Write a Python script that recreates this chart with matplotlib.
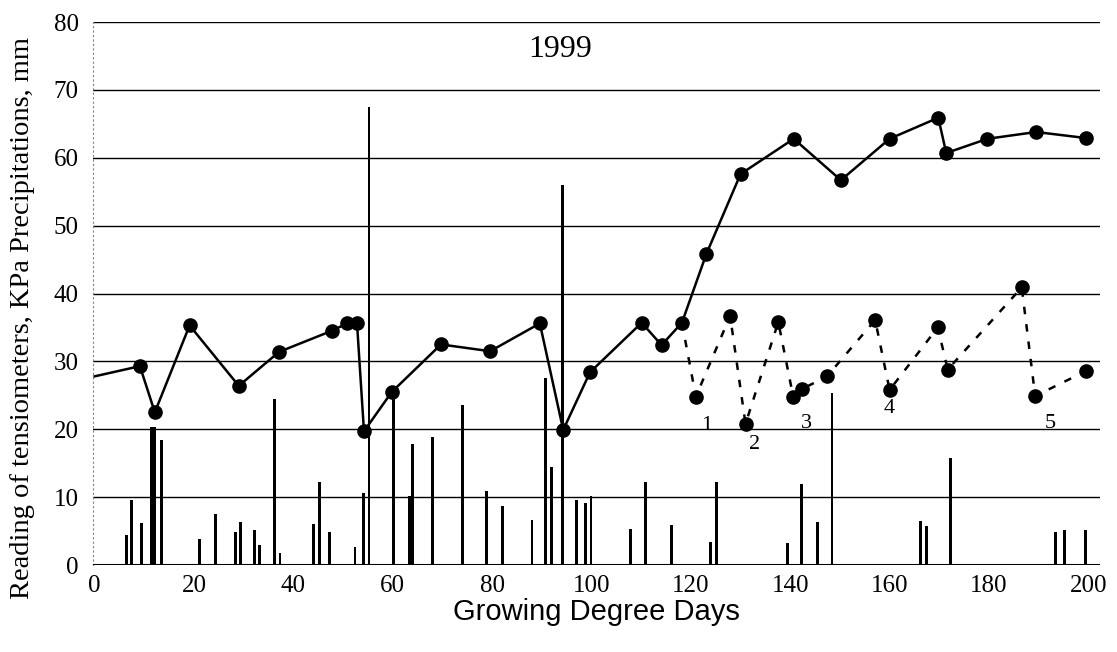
import matplotlib.pyplot as plt
from matplotlib.font_manager import findfont, FontProperties

# tensiometer 1 (solid line), growing degree days vs KPa
gdd_1 = [0, 9.1, 12.1, 19.1, 29.0, 37.1, 47.7, 50.8, 52.8, 54.2, 59.8, 69.7, 79.6,
         89.6, 94.3, 99.7, 110.1, 114.1, 118.2, 123.1, 130.0, 140.7, 150.2, 160.0,
         169.8, 171.4, 179.7, 189.5, 199.6]
kpa_1 = [27.8, 29.3, 22.5, 35.3, 26.4, 31.4, 34.5, 35.6, 35.6, 19.7, 25.5, 32.5, 31.5,
         35.6, 19.9, 28.4, 35.7, 32.4, 35.7, 45.8, 57.6, 62.8, 56.7, 62.8,
         65.9, 60.7, 62.8, 63.8, 62.9]

# tensiometer 2 (dashed line), branches off tensiometer 1 at ~118 GDD
gdd_2 = [118.2, 121.0, 127.9, 131.0, 137.6, 140.6, 142.3, 147.4, 157.1, 160.0,
         169.7, 171.7, 186.6, 189.3, 199.6]
kpa_2 = [35.7, 24.8, 36.7, 20.8, 35.8, 24.8, 25.9, 27.8, 36.1, 25.8,
         35.0, 28.8, 40.9, 24.9, 28.6]

# precipitation, mm
rain_gdd = [6.4, 7.4, 9.4, 11.5, 12.1, 13.4, 21.1, 24.3, 28.3, 29.3, 32.1, 33.2, 36.2,
            37.3, 44.1, 45.2, 47.2, 52.4, 54.1, 55.2, 60.1, 63.4, 64.0, 68.0, 74.1,
            78.9, 82.1, 88.0, 90.8, 92.0, 94.1, 97.0, 98.8, 99.9, 107.9, 110.9,
            116.1, 123.9, 125.1, 139.4, 142.3, 145.5, 148.4, 166.2, 167.4, 172.2,
            193.4, 195.2, 199.5]
rain_mm = [4.4, 9.6, 6.2, 20.4, 20.4, 18.4, 3.9, 7.5, 4.8, 6.4, 5.1, 2.9, 24.4,
           1.7, 6.1, 12.2, 4.8, 2.7, 10.6, 67.5, 25.0, 10.2, 17.8, 18.8, 23.6,
           10.9, 8.7, 6.6, 27.5, 14.4, 56.0, 9.6, 9.2, 10.1, 5.3, 12.2,
           5.9, 3.4, 12.2, 3.2, 12.0, 6.3, 25.4, 6.5, 5.8, 15.7,
           4.8, 5.2, 5.1]

# small numbered labels under the dashed curve
label_text = ["1", "2", "3", "4", "5"]
label_gdd = [123.1, 132.9, 143.2, 159.9, 192.3]
label_kpa = [20.6, 17.7, 20.9, 23.1, 20.9]

serif = "Liberation Serif"
narrow = "Liberation Sans Narrow"
if "Narrow" not in findfont(FontProperties(family=narrow), fallback_to_default=True):
    narrow = "Liberation Sans"

fig = plt.figure(figsize=(11.17, 6.52), dpi=100)
ax = fig.add_axes([0.083, 0.1334, 0.902, 0.8328])

ax.set_xlim(-0.4, 202.4)
ax.set_ylim(0, 80)

for y in range(10, 81, 10):
    ax.axhline(y, color="black", lw=1.0, zorder=1)
ax.axhline(0, color="black", lw=2.2, zorder=4)

ax.bar(rain_gdd, rain_mm, width=0.55, color="black", zorder=2)

ax.plot(gdd_1, kpa_1, color="black", lw=1.8, zorder=3,
        marker="o", ms=9.5, markevery=list(range(1, len(gdd_1))))
ax.plot(gdd_2, kpa_2, color="black", lw=1.8, ls=(0, (3, 4)), zorder=3,
        marker="o", ms=9.5, markevery=list(range(1, len(gdd_2))))

for t, x, y in zip(label_text, label_gdd, label_kpa):
    ax.text(x, y, t, ha="center", va="center", fontsize=16, family=serif)

ax.text(93.6, 76, "1999", ha="center", va="center", fontsize=23, family=serif)

ax.set_xticks(range(0, 201, 20))
ax.set_yticks(range(0, 81, 10))
ax.tick_params(axis="x", length=0, pad=7, labelsize=18)
ax.tick_params(axis="y", length=0, pad=10, labelsize=18)
for lab in ax.get_xticklabels() + ax.get_yticklabels():
    lab.set_family(serif)

for s in ["top", "right", "bottom"]:
    ax.spines[s].set_visible(False)
ax.spines["left"].set_linestyle((0, (1, 3)))
ax.spines["left"].set_color("gray")
ax.spines["left"].set_linewidth(0.8)

ax.set_xlabel("Growing Degree Days", family=narrow, fontsize=21, labelpad=1)
ax.set_ylabel("Reading of tensiometers, KPa Precipitations, mm", family=serif,
              fontsize=20.5)
ax.yaxis.set_label_coords(-0.057, 0.455)

fig.savefig("out.png", dpi=100)
